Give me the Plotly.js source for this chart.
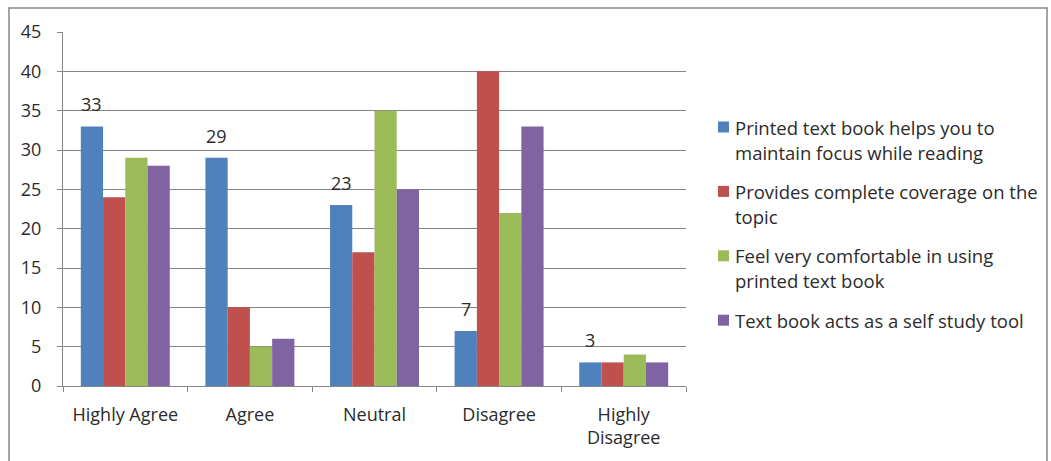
<!DOCTYPE html>
<html><head><meta charset="utf-8">
<script src="https://cdn.plot.ly/plotly-3.0.1.min.js"></script>
<style>html,body{margin:0;padding:0;background:#fff}#chart{width:1051px;height:461px}</style>
</head><body><div id="chart"></div>
<script>
const categories = ["Highly Agree", "Agree", "Neutral", "Disagree", "Highly<br>Disagree"];
const seriesNames = [
  "Printed text book helps you to<br>maintain focus while reading",
  "Provides complete coverage on the<br>topic",
  "Feel very comfortable in using<br>printed text book",
  "Text book acts as a self study tool"
];
const focusVals = [33, 29, 23, 7, 3];
const coverageVals = [24, 10, 17, 40, 3];
const comfortVals = [29, 5, 35, 22, 4];
const selfStudyVals = [28, 6, 25, 33, 3];
const colors = ["#4F81BD", "#C0504D", "#9BBB59", "#8064A2"];
const yTicks = [0, 5, 10, 15, 20, 25, 30, 35, 40, 45];

const allVals = [focusVals, coverageVals, comfortVals, selfStudyVals];
const FONT = "'Open Sans', 'Noto Sans', sans-serif";
const FS = 18;
const LFS = 18.5;
const TXT = "#2b2b2b";
const traces = allVals.map((v, i) => ({
  type: "bar", x: categories, y: v, name: seriesNames[i],
  marker: {color: colors[i], line: {width: 0}}, hoverinfo: "none", showlegend: false
}));

const annotations = categories.map((c, i) => ({
  x: c, y: focusVals[i], xref: "x", yref: "y", text: String(focusVals[i]),
  showarrow: false, xshift: -33.4, yshift: 22, yanchor: "middle",
  font: {family: FONT, size: FS, color: TXT}
}));

// manual legend (pixel geometry converted to paper coords)
const plotL = 63, plotW = 623, plotB = 386, plotH = 354;
const px2x = p => (p - plotL) / plotW;
const px2y = p => (plotB - p) / plotH;
const shapes = [{type: "rect", xref: "paper", yref: "paper", x0: px2x(9), x1: px2x(1047), y0: px2y(520), y1: px2y(8),
  line: {color: "#868686", width: 1.5}, fillcolor: "rgba(0,0,0,0)", layer: "below"}];
seriesNames.forEach((name, i) => {
  const top = 127 + 64.4 * i;
  shapes.push({type: "rect", xref: "paper", yref: "paper", x0: px2x(718), x1: px2x(729),
    y0: px2y(top + 5.5), y1: px2y(top - 5.5), fillcolor: colors[i], line: {width: 0}});
  name.split("<br>").forEach((line, k) => {
    annotations.push({xref: "paper", yref: "paper", x: px2x(735), y: px2y(top + 25 * k),
      xanchor: "left", yanchor: "middle", xshift: -2, text: line, showarrow: false,
      font: {family: FONT, size: LFS, color: TXT}});
  });
});

const layout = {
  width: 1051, height: 461,
  margin: {l: 63, r: 365, t: 32, b: 75},
  paper_bgcolor: "#fff", plot_bgcolor: "#fff",
  font: {family: FONT, size: FS, color: TXT},
  barmode: "group", bargap: 0.286, bargroupgap: 0,
  showlegend: false,
  xaxis: {type: "category", showgrid: false, showline: true, linecolor: "#868686", linewidth: 1,
          ticks: "outside", tickson: "boundaries", ticklen: 5, tickcolor: "#868686",
          ticklabelstandoff: 12, tickfont: {family: FONT, size: FS, color: TXT},
          fixedrange: true},
  yaxis: {range: [0, 45], tickvals: yTicks, showgrid: true, gridcolor: "#868686", gridwidth: 1,
          showline: true, linecolor: "#868686", ticks: "outside", ticklen: 5, tickcolor: "#868686",
          ticklabelstandoff: 12, tickfont: {family: FONT, size: FS, color: TXT},
          zeroline: false, fixedrange: true},
  annotations: annotations,
  shapes: shapes
};
Plotly.newPlot("chart", traces, layout, {displayModeBar: false, staticPlot: true});
</script></body></html>
